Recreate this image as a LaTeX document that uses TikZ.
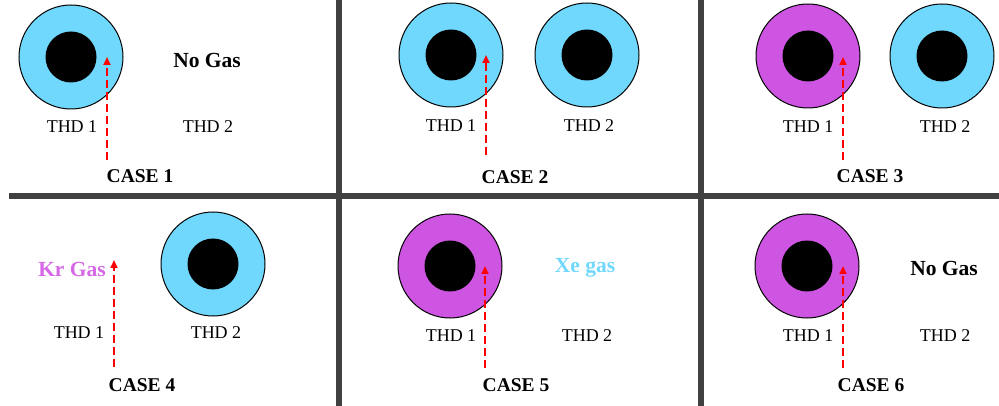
\documentclass[tikz,border=0pt]{standalone}
\usepackage{fontspec}
\setmainfont{Liberation Serif}
\usetikzlibrary{arrows.meta}

\definecolor{xeblue}{RGB}{112,216,252}
\definecolor{krpurple}{RGB}{206,84,226}
\definecolor{krtext}{RGB}{214,103,230}
\definecolor{divgray}{RGB}{64,64,64}

\begin{document}
\begin{tikzpicture}[x=1pt,y=-1pt,
  tube/.style={circle,draw=black,line width=1pt,minimum size=104pt,inner sep=0pt,outer sep=0pt},
  core/.style={circle,fill=black,minimum size=51pt,inner sep=0pt,outer sep=0pt},
  thd/.style={font=\fontsize{18}{20}\selectfont},
  casetxt/.style={font=\fontsize{19.5}{22}\selectfont\bfseries},
  gastxt/.style={font=\fontsize{21.5}{24}\selectfont\bfseries},
  probe/.style={red,line width=2pt,dash pattern=on 8pt off 4pt,-{Triangle[width=7pt,length=8pt]}},
  divider/.style={divgray,line width=6.5pt}]

\useasboundingbox (0,0) rectangle (999,406);

% frame
\draw[divider] (9,196) -- (999,196);
\draw[divider] (339,0) -- (339,406);
\draw[divider] (701,0) -- (701,406);

% case 1
\begin{scope}
\node[tube,fill=xeblue] (a1) at (71,57) {};
\node[core] at (a1) {};
\node[thd] (a1l) at (72,127) {THD 1};
\node[thd] (a2l) at (208,127) {THD 2};
\node[gastxt] (agas) at (207,60) {No Gas};
\node[casetxt] (acase) at (140,176) {CASE 1};
\coordinate (as) at (107,160);
\coordinate (ae) at (107,57);
\draw[probe] (as) -- (ae);
\end{scope}

% case 2
\begin{scope}
\node[tube,fill=xeblue] (b1) at (451,55) {};
\node[core] at (b1) {};
\node[tube,fill=xeblue] (b2) at (587,55) {};
\node[core] at (b2) {};
\node[thd] (b1l) at (451,126) {THD 1};
\node[thd] (b2l) at (589,126) {THD 2};
\node[casetxt] (bcase) at (515,177) {CASE 2};
\coordinate (bs) at (486,155);
\coordinate (be) at (486,55);
\draw[probe] (bs) -- (be);
\end{scope}

% case 3
\begin{scope}
\node[tube,fill=krpurple] (c1) at (808,56) {};
\node[core] at (c1) {};
\node[tube,fill=xeblue] (c2) at (942,56) {};
\node[core] at (c2) {};
\node[thd] (c1l) at (808,127) {THD 1};
\node[thd] (c2l) at (945,127) {THD 2};
\node[casetxt] (ccase) at (870,176) {CASE 3};
\coordinate (cs) at (843,160);
\coordinate (ce) at (843,57);
\draw[probe] (cs) -- (ce);
\end{scope}

% case 4
\begin{scope}
\node[tube,fill=xeblue] (d2) at (213,264) {};
\node[core] at (d2) {};
\node[thd] (d1l) at (79,333) {THD 1};
\node[thd] (d2l) at (216,333) {THD 2};
\node[gastxt,text=krtext] (dgas) at (72,269) {Kr Gas};
\node[casetxt] (dcase) at (142,385) {CASE 4};
\coordinate (ds) at (114,367);
\coordinate (de) at (114,260);
\draw[probe] (ds) -- (de);
\end{scope}

% case 5
\begin{scope}
\node[tube,fill=krpurple] (e1) at (450,266) {};
\node[core] at (e1) {};
\node[thd] (e1l) at (451,336) {THD 1};
\node[thd] (e2l) at (587,336) {THD 2};
\node[gastxt,text=xeblue] (egas) at (585,268) {Xe gas};
\node[casetxt] (ecase) at (516,385) {CASE 5};
\coordinate (es) at (485,368);
\coordinate (ee) at (485,266);
\draw[probe] (es) -- (ee);
\end{scope}

% case 6
\begin{scope}
\node[tube,fill=krpurple] (f1) at (807,266) {};
\node[core] at (f1) {};
\node[thd] (f1l) at (808,336) {THD 1};
\node[thd] (f2l) at (945,336) {THD 2};
\node[gastxt] (fgas) at (944,268) {No Gas};
\node[casetxt] (fcase) at (871,385) {CASE 6};
\coordinate (fs) at (843,368);
\coordinate (fe) at (843,266);
\draw[probe] (fs) -- (fe);
\end{scope}

\end{tikzpicture}
\end{document}
